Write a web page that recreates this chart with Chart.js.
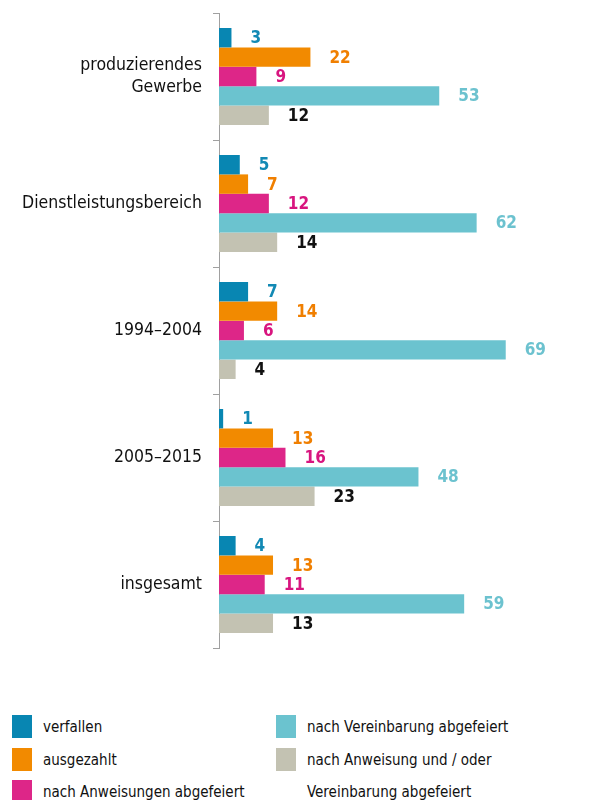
<!DOCTYPE html>
<html>
<head>
<meta charset="utf-8">
<script src="https://cdn.jsdelivr.net/npm/chart.js@4.4.1/dist/chart.umd.min.js"></script>
<style>
  body { margin: 0; background: #fff; }
  #wrap { position: relative; width: 594px; height: 800px; overflow: hidden; }
  #chart { position: absolute; left: 0; top: 0; }
  .lg { position: absolute; font-family: "Liberation Sans Narrow", "DejaVu Sans Condensed", sans-serif;
        font-size: 15px; color: #111; line-height: 32px; white-space: nowrap; }
  .lg span.box { position: absolute; width: 20px; height: 23px; top: 4px; left: 0; }
  .lg span.txt { position: absolute; left: 31px; top: 0; }
</style>
</head>
<body>
<div id="wrap">
  <canvas id="chart" width="594" height="660"></canvas>
  <div id="legend"></div>
</div>
<script>
// Kategorien (y-Achse)
const categories = [
  ["produzierendes", "Gewerbe"],
  "Dienstleistungsbereich",
  "1994–2004",
  "2005–2015",
  "insgesamt"
];

// Reihen
const seriesNames = [
  "verfallen",
  "ausgezahlt",
  "nach Anweisungen abgefeiert",
  "nach Vereinbarung abgefeiert",
  "nach Anweisung und / oder Vereinbarung abgefeiert"
];

const verfallen     = [3, 5, 7, 1, 4];
const ausgezahlt    = [22, 7, 14, 13, 13];
const anweisungen   = [9, 12, 6, 16, 11];
const vereinbarung  = [53, 62, 69, 48, 59];
const anwUndVereinb = [12, 14, 4, 23, 13];

const seriesValues = [verfallen, ausgezahlt, anweisungen, vereinbarung, anwUndVereinb];

/*---------- farben ----------*/
const barColors   = ["#0886b2", "#f28a00", "#dd2688", "#6bc3cf", "#c3c2b2"];
const labelColors = ["#1289b4", "#f07f00", "#d8157f", "#6cc2cf", "#111111"];

const FONT = '"Liberation Sans Narrow", "DejaVu Sans Condensed", sans-serif';

// Werte rechts neben den Balken
const valueLabels = {
  id: "valueLabels",
  afterDatasetsDraw(chart) {
    const ctx = chart.ctx;
    ctx.save();
    ctx.font = "bold 17px " + FONT;
    ctx.textAlign = "left";
    ctx.textBaseline = "middle";
    chart.data.datasets.forEach((ds, i) => {
      const meta = chart.getDatasetMeta(i);
      meta.data.forEach((bar, j) => {
        ctx.fillStyle = labelColors[i];
        ctx.fillText(String(ds.data[j]), bar.x + 19, bar.y + 1);
      });
    });
    ctx.restore();
  }
};

new Chart(document.getElementById("chart"), {
  type: "bar",
  data: {
    labels: categories,
    datasets: seriesValues.map((vals, i) => ({
      label: seriesNames[i],
      data: vals,
      backgroundColor: barColors[i],
      borderWidth: 0,
      categoryPercentage: 0.764,
      barPercentage: 1
    }))
  },
  options: {
    indexAxis: "y",
    responsive: false,
    animation: false,
    devicePixelRatio: 1,
    layout: { padding: { top: 13, bottom: 12, left: 0, right: 1 } },
    plugins: { legend: { display: false }, tooltip: { enabled: false } },
    scales: {
      x: { display: false, min: 0, max: 90 },
      y: {
        afterFit(scale) {
          scale.width = 219;
          scale.paddingTop = 0;
          scale.paddingBottom = 0;
        },
        grid: { drawOnChartArea: false, drawTicks: true, tickLength: 6, color: "#a0a0a0", offset: true },
        border: { display: true, color: "#a0a0a0", width: 1 },
        ticks: {
          padding: 11,
          color: "#111",
          font: { family: FONT, size: 17.5, lineHeight: 1.3 }
        }
      }
    }
  },
  plugins: [valueLabels]
});

/*---------- legende (2 spalten) ----------*/
const legendPos = [
  { left: 12, top: 711 },
  { left: 12, top: 744 },
  { left: 12, top: 776 },
  { left: 276, top: 711 },
  { left: 276, top: 744 }
];
const legendLines = [
  ["verfallen"],
  ["ausgezahlt"],
  ["nach Anweisungen abgefeiert"],
  ["nach Vereinbarung abgefeiert"],
  ["nach Anweisung und / oder", "Vereinbarung abgefeiert"]
];
const legendDiv = document.getElementById("legend");
seriesNames.forEach((name, i) => {
  const item = document.createElement("div");
  item.className = "lg";
  item.style.left = legendPos[i].left + "px";
  item.style.top = legendPos[i].top + "px";
  item.innerHTML = '<span class="box" style="background:' + barColors[i] + '"></span>' +
    '<span class="txt">' + legendLines[i].join("<br>") + "</span>";
  legendDiv.appendChild(item);
});
</script>
</body>
</html>
